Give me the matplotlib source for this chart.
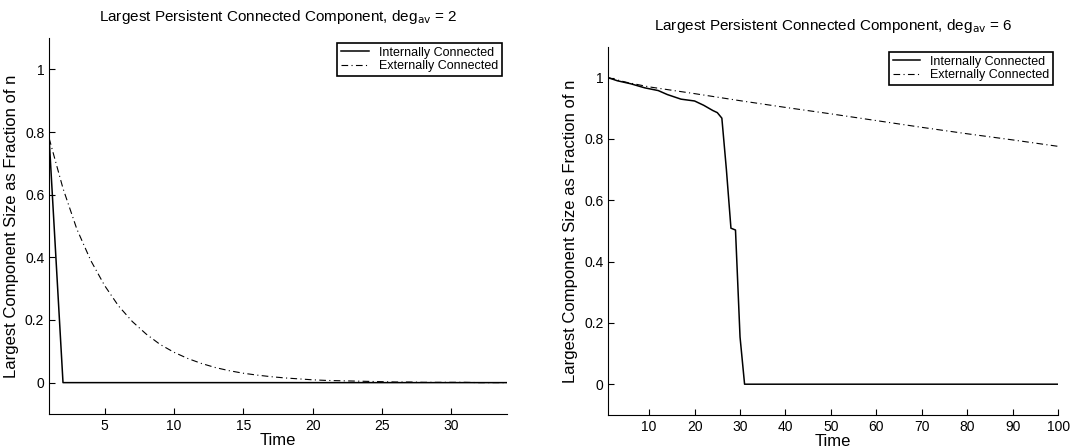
import matplotlib.pyplot as plt

plt.rcParams['font.family'] = ['Liberation Sans', 'DejaVu Sans']

# deg_av = 2 panel
t_left = list(range(1, 35))
int_left = [0.78] + [0.0] * 33
ext_left = [0.78, 0.62, 0.49, 0.39, 0.31, 0.245, 0.195, 0.155, 0.122, 0.097,
            0.077, 0.061, 0.048, 0.038, 0.030, 0.024, 0.019, 0.015, 0.012, 0.009,
            0.007, 0.006, 0.005, 0.004, 0.003, 0.002, 0.002, 0.001, 0.001, 0.001,
            0.001, 0.0, 0.0, 0.0]

# deg_av = 6 panel
t_int_right = [1, 3, 6, 9, 12, 14, 17, 20, 22, 24, 25, 26, 27, 28, 29, 30, 31, 100]
int_right = [1.0, 0.99, 0.98, 0.967, 0.958, 0.945, 0.93, 0.924, 0.91, 0.893, 0.886,
             0.868, 0.70, 0.509, 0.503, 0.154, 0.0, 0.0]
t_ext_right = [1, 5, 10, 20, 30, 40, 50, 60, 70, 80, 90, 100]
ext_right = [1.0, 0.985, 0.97, 0.948, 0.925, 0.903, 0.882, 0.86, 0.838, 0.817,
             0.797, 0.776]

dashdot = (0, (6, 3, 1, 3))

fig = plt.figure(figsize=(10.92, 4.48), dpi=100)
ax1 = fig.add_axes([0.045, 0.076, 0.419, 0.839])
ax2 = fig.add_axes([0.557, 0.074, 0.412, 0.821])


def style(ax, title, xticks, xlim):
    ax.set_xlim(*xlim)
    ax.set_ylim(-0.1, 1.1)
    ax.set_xticks(xticks)
    ax.set_yticks([0, 0.2, 0.4, 0.6, 0.8, 1])
    ax.set_yticklabels(['0', '0.2', '0.4', '0.6', '0.8', '1'])
    ax.tick_params(direction='in', length=4, labelsize=10, width=0.8)
    for s in ['top', 'right']:
        ax.spines[s].set_visible(False)
    ax.set_xlabel('Time', fontsize=12, labelpad=0)
    ax.set_ylabel('Largest Component Size as Fraction of n', fontsize=12)
    ax.set_title(title, fontsize=11, pad=12)
    leg = ax.legend(loc='upper right', fontsize=9, fancybox=False,
                    framealpha=1, borderpad=0.3, labelspacing=0.1,
                    handlelength=2.2, borderaxespad=0.4)
    leg.get_frame().set_edgecolor('black')
    leg.get_frame().set_linewidth(1.2)


ax1.plot(t_left, int_left, color='black', lw=1.1, label='Internally Connected')
ax1.plot(t_left, ext_left, color='black', lw=0.8, linestyle=dashdot,
         label='Externally Connected')
style(ax1, 'Largest Persistent Connected Component, deg$_{\\mathrm{av}}$ = 2',
      [5, 10, 15, 20, 25, 30], (1, 34))

ax2.plot(t_int_right, int_right, color='black', lw=1.1, label='Internally Connected')
ax2.plot(t_ext_right, ext_right, color='black', lw=0.8, linestyle=dashdot,
         label='Externally Connected')
style(ax2, 'Largest Persistent Connected Component, deg$_{\\mathrm{av}}$ = 6',
      list(range(10, 101, 10)), (1, 100))

fig.savefig('out.png', dpi=100)
